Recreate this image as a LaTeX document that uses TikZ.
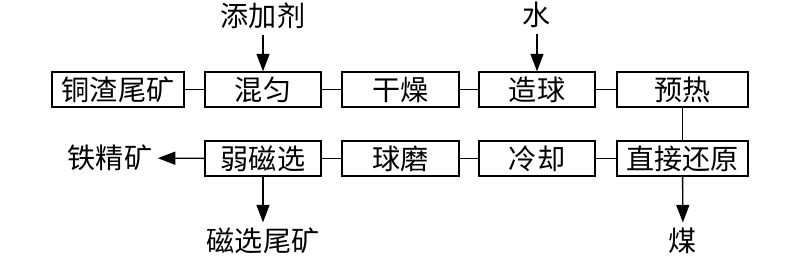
\documentclass[tikz,border=0pt]{standalone}
\usepackage{fontspec}
\newfontfamily\cjk{Noto Sans CJK SC}
\usepackage{tikz}
\usetikzlibrary{arrows.meta, positioning}
\tikzset{
  block/.style={rectangle, draw=black, fill=white,
    minimum height=0.7cm, inner sep=1pt,
    font=\cjk\fontsize{16}{19}\selectfont, line width=0.8pt},
  label/.style={font=\cjk\fontsize{16}{19}\selectfont, inner sep=3pt},
  arrow/.style={-{Triangle[length=0.35cm, width=0.26cm]}, line width=0.8pt, color=black},
  line/.style={line width=0.8pt, color=black}
}
\begin{document}
\begin{tikzpicture}[x=0.02cm, y=-0.02cm]
  \useasboundingbox (0,0) rectangle (800,256);

  % Upper row
  \node[block, minimum width=2.64cm] (tail)    at (118,89.5)   {铜渣尾矿};
  \node[block, minimum width=2.32cm] (mix)     at (263,89.5)   {混匀};
  \node[block, minimum width=2.34cm] (dry)     at (400.5,89.5) {干燥};
  \node[block, minimum width=2.32cm] (pellet)  at (537,89.5)   {造球};
  \node[block, minimum width=2.62cm] (preheat) at (682.5,89.5) {预热};

  % Lower row
  \node[block, minimum width=2.32cm] (magsep)  at (263,158.5)   {弱磁选};
  \node[block, minimum width=2.34cm] (mill)    at (400.5,158.5) {球磨};
  \node[block, minimum width=2.32cm] (cool)    at (537,158.5)   {冷却};
  \node[block, minimum width=2.62cm] (reduce)  at (682.5,158.5) {直接还原};

  % Inputs and products
  \node[label] (additive) at (263,16)  {添加剂};
  \node[label] (water)    at (537,15)  {水};
  \node[label] (conc)     at (110,158) {铁精矿};
  \node[label] (tailings) at (263,241) {磁选尾矿};
  \node[label] (coal)     at (683,241) {煤};

  % Process flow
  \draw[line] (tail) -- (mix);
  \draw[line] (mix) -- (dry);
  \draw[line] (dry) -- (pellet);
  \draw[line] (pellet) -- (preheat);
  \draw[line] (preheat) -- (reduce);
  \draw[line] (reduce) -- (cool);
  \draw[line] (cool) -- (mill);
  \draw[line] (mill) -- (magsep);

  % Arrows
  \draw[arrow] (additive) -- (mix);
  \draw[arrow] (water) -- (pellet);
  \draw[arrow] (magsep) -- (conc);
  \draw[arrow] (magsep) -- (tailings);
  \draw[arrow] (reduce) -- (coal);
\end{tikzpicture}
\end{document}
